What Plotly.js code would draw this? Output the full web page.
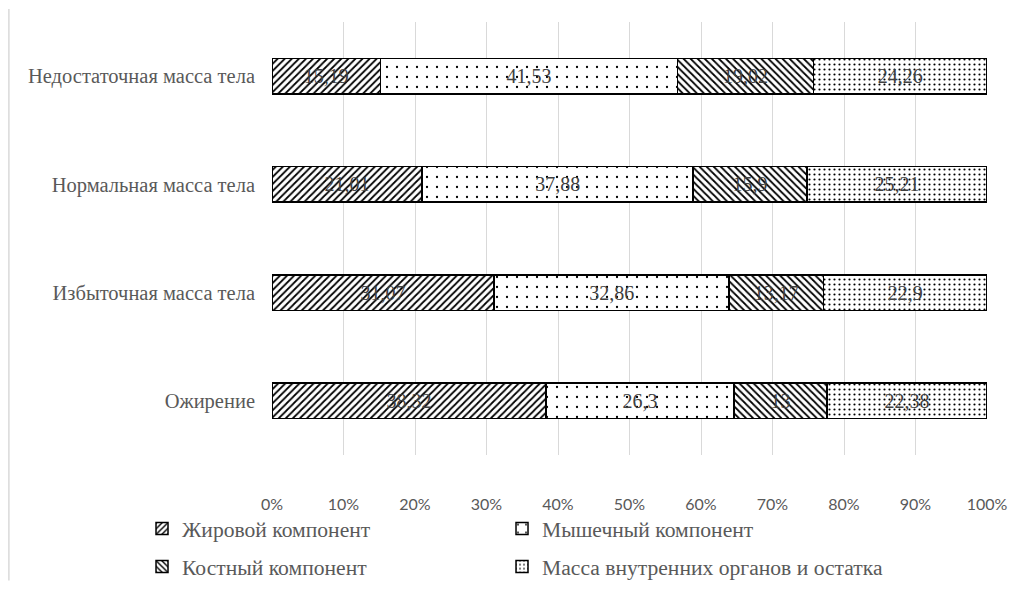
<!DOCTYPE html>
<html><head><meta charset="utf-8">
<script src="https://cdn.plot.ly/plotly-3.0.1.min.js"></script>
<style>html,body{margin:0;padding:0;background:#fff}</style>
</head><body>
<div id="chart" style="width:1029px;height:591px"></div>
<script>
const categories = ["Недостаточная масса тела", "Нормальная масса тела", "Избыточная масса тела", "Ожирение"];
const seriesNames = ["Жировой компонент", "Мышечный компонент", "Костный компонент", "Масса внутренних органов и остатка"];
const fatValues = [15.19, 21.01, 31.07, 38.32];
const muscleValues = [41.53, 37.88, 32.86, 26.3];
const boneValues = [19.02, 15.9, 13.17, 13];
const organValues = [24.26, 25.21, 22.9, 22.38];
const tickValues = [0, 10, 20, 30, 40, 50, 60, 70, 80, 90, 100];
const tickLabels = ["0%", "10%", "20%", "30%", "40%", "50%", "60%", "70%", "80%", "90%", "100%"];

const serif = "'Liberation Serif', 'Times New Roman', serif";
const patterns = [
  {shape: "/", size: 5, solidity: 0.35},
  {shape: ".", size: 10, solidity: 0.04},
  {shape: "\\", size: 5, solidity: 0.35},
  {shape: ".", size: 5, solidity: 0.15}
];
const allValues = [fatValues, muscleValues, boneValues, organValues];
const legendIds = ["legend", "legend2", "legend3", "legend4"];

const traces = allValues.map((vals, i) => ({
  type: "bar",
  orientation: "h",
  name: seriesNames[i],
  y: categories,
  x: vals,
  text: vals.map(v => String(v).replace(".", ",")),
  textposition: "inside",
  insidetextanchor: "middle",
  textangle: 0,
  constraintext: "none",
  textfont: {family: serif, size: 20, color: "#404040"},
  hoverinfo: "name+x",
  legend: legendIds[i],
  marker: {
    color: "#ffffff",
    line: {color: "#000000", width: 1.5},
    pattern: Object.assign({fgcolor: "#000000", bgcolor: "#ffffff", fillmode: "replace"}, patterns[i])
  },
  width: 0.33
}));

const legendBase = {
  orientation: "v",
  xanchor: "left",
  yanchor: "middle",
  font: {family: serif, size: 21.6, color: "#595959"},
  bgcolor: "rgba(0,0,0,0)",
  itemclick: false
};
const colX = [-0.1818, 0.3217];
const rowY = [-0.1709, -0.2587];

const layout = {
  width: 1029, height: 591,
  margin: {l: 272, r: 42, t: 22, b: 136, autoexpand: false},
  paper_bgcolor: "#ffffff",
  plot_bgcolor: "#ffffff",
  barmode: "stack",
  showlegend: true,
  xaxis: {
    range: [0, 100],
    tickvals: tickValues,
    ticktext: tickLabels,
    showgrid: true,
    gridcolor: "#d9d9d9",
    gridwidth: 1,
    zeroline: false,
    showline: false,
    ticks: "",
    ticklabelstandoff: 38,
    automargin: false,
    tickfont: {family: "Lato, 'Open Sans', sans-serif", size: 16, color: "#595959"},
    fixedrange: true
  },
  yaxis: {
    type: "category",
    categoryorder: "array",
    categoryarray: categories,
    autorange: "reversed",
    showgrid: false,
    zeroline: false,
    showline: false,
    ticks: "",
    ticklabelstandoff: 16,
    automargin: false,
    tickfont: {family: serif, size: 20.5, color: "#595959"},
    fixedrange: true
  },
  legend: Object.assign({}, legendBase, {x: colX[0], y: rowY[0]}),
  legend2: Object.assign({}, legendBase, {x: colX[1], y: rowY[0]}),
  legend3: Object.assign({}, legendBase, {x: colX[0], y: rowY[1]}),
  legend4: Object.assign({}, legendBase, {x: colX[1], y: rowY[1]}),
  shapes: [{
    type: "line", xref: "paper", yref: "paper",
    x0: -0.368, x1: -0.368, y0: 1.03, y1: -0.29,
    line: {color: "#d9d9d9", width: 1.5}
  }]
};

Plotly.newPlot("chart", traces, layout, {displayModeBar: false});
</script>
</body></html>
